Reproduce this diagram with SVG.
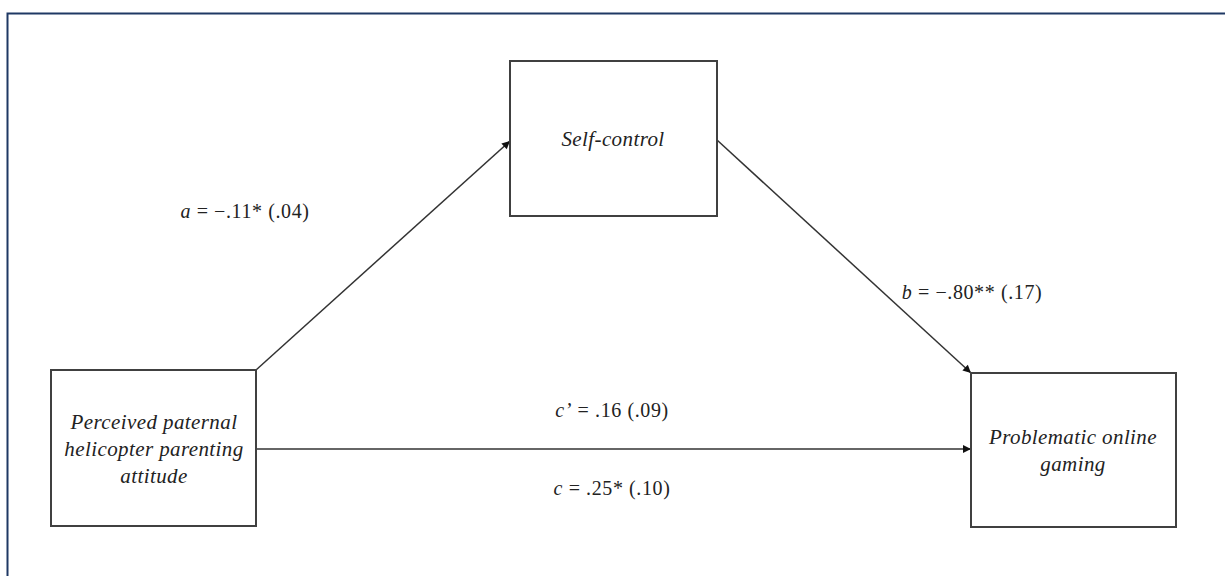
<svg xmlns="http://www.w3.org/2000/svg" width="1225" height="576" viewBox="0 0 1225 576">
<style>
.box{fill:#fff;stroke:#404040;stroke-width:2}
.lbl{font-family:"Liberation Serif",serif;font-size:21px;font-style:italic;fill:#222;text-anchor:middle;letter-spacing:0.4px}
.val{font-family:"Liberation Serif",serif;font-size:20px;fill:#222;text-anchor:middle;letter-spacing:0.6px}
.edge{stroke:#333;stroke-width:1.5;fill:none;marker-end:url(#ah)}
</style>
<defs>
<marker id="ah" viewBox="0 0 10 10" refX="10" refY="5" markerWidth="11" markerHeight="8" markerUnits="userSpaceOnUse" orient="auto">
<path d="M0,0 L10,5 L0,10 z" fill="#111"/>
</marker>
</defs>
<rect width="1225" height="576" fill="#fff"/>
<path d="M7.5,576 V13.5 H1225" fill="none" stroke="#1f3864" stroke-width="2"/>
<g id="connectors">
<line class="edge" x1="256" y1="370" x2="510" y2="141"/>
<line class="edge" x1="717" y1="140" x2="971" y2="373"/>
<line class="edge" x1="256" y1="449" x2="971" y2="449"/>
<text class="val" x="245" y="218"><tspan font-style="italic">a</tspan> = −.11* (.04)</text>
<text class="val" x="972" y="299"><tspan font-style="italic">b</tspan> = −.80** (.17)</text>
<text class="val" x="612" y="417"><tspan font-style="italic">c’</tspan> = .16 (.09)</text>
<text class="val" x="612" y="495"><tspan font-style="italic">c</tspan> = .25* (.10)</text>
</g>
<g id="node-parent">
<rect class="box" x="51" y="370" width="205" height="156"/>
<text class="lbl" x="154" y="429">Perceived paternal</text>
<text class="lbl" x="154" y="456">helicopter parenting</text>
<text class="lbl" x="154" y="483">attitude</text>
</g>
<g id="node-selfcontrol">
<rect class="box" x="510" y="61" width="207" height="155"/>
<text class="lbl" x="613" y="146">Self-control</text>
</g>
<g id="node-gaming">
<rect class="box" x="971" y="373" width="205" height="154"/>
<text class="lbl" x="1073" y="444">Problematic online</text>
<text class="lbl" x="1073" y="471">gaming</text>
</g>
</svg>
